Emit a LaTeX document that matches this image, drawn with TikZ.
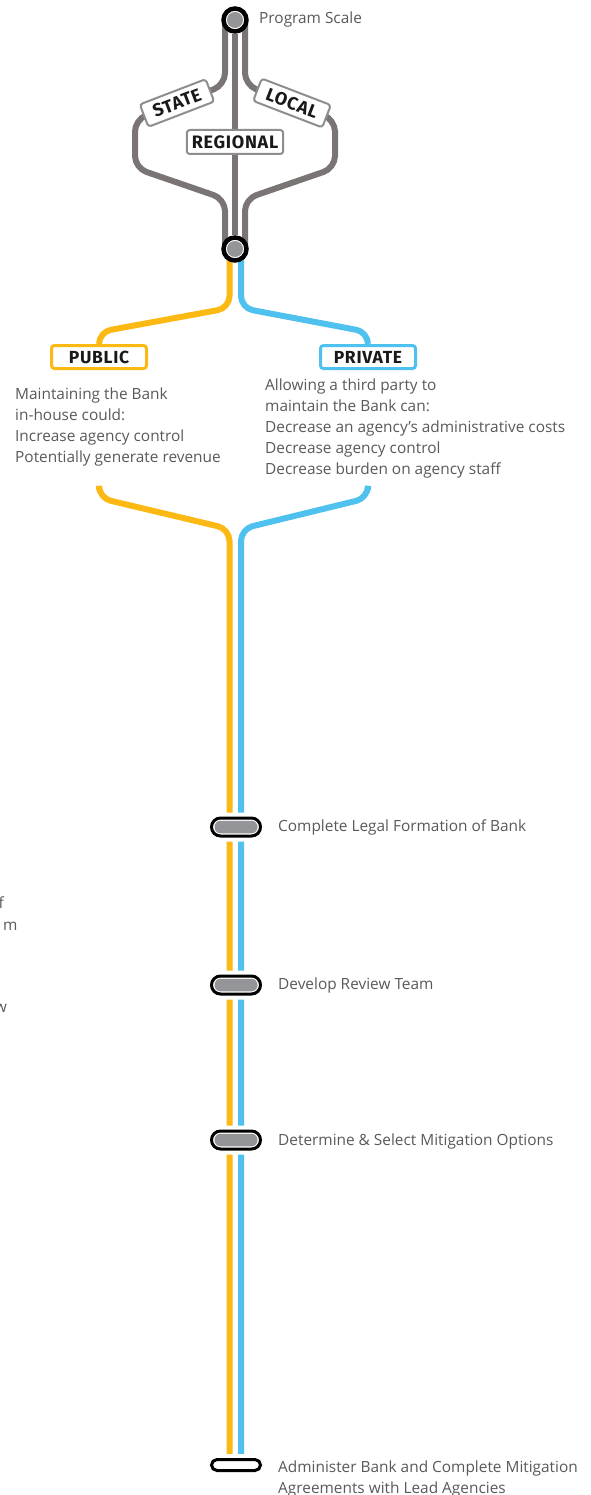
\documentclass[tikz,border=0pt]{standalone}
\usepackage{fontspec}
\setmainfont{Open Sans}
\newfontfamily\tagfont{Fira Sans}[LetterSpace=4]
\usepackage{xcolor}
\usepackage{tikz}
\usetikzlibrary{backgrounds}
\definecolor{pubyellow}{HTML}{FDB913}
\definecolor{privblue}{HTML}{4FC1EE}
\definecolor{railgray}{HTML}{7A7474}
\definecolor{tagborder}{HTML}{8E8E8E}
\definecolor{stopgray}{HTML}{939598}
\definecolor{textgray}{HTML}{58595B}
\tikzstyle{mytext} = [text=textgray, font=\fontsize{15.4}{21}\selectfont,
inner sep=0pt, align=left]
\tikzstyle{scaletag} = [draw=tagborder, fill=white, line width=2pt,
rounded corners=3pt, font=\tagfont\bfseries\fontsize{18}{18}\selectfont,
inner xsep=10pt, minimum height=24pt, text=black!90]
\tikzstyle{optiontag} = [fill=white, line width=3pt, rounded corners=3pt,
font=\tagfont\bfseries\fontsize{17.5}{17.5}\selectfont, minimum width=95pt,
minimum height=23pt, text=black!90]
\tikzstyle{hub} = [circle, draw=black, line width=4.5pt, fill=white,
minimum size=23pt, inner sep=0pt,
path picture={\fill[stopgray] (path picture bounding box.center) circle (8pt);}]
\tikzstyle{mystop} = [draw=black, line width=3pt, fill=white, rounded corners=9pt,
minimum width=49pt, minimum height=18pt, inner sep=0pt,
preaction={draw=white, line width=11pt}]
\tikzstyle{stopfill} = [fill=stopgray, rounded corners=6pt, minimum width=43pt,
minimum height=12.5pt, inner sep=0pt]
\tikzstyle{rail} = [line width=6pt, rounded corners=12pt]

\begin{document}
\begin{tikzpicture}[x=1pt,y=-1pt]
    \useasboundingbox (0,0) rectangle (590,1495);
    % program scale
    \node[hub] (scale) at (235,20) {};
    \node[mytext, anchor=west] (scaletext) at (259,20) {Program Scale};
    \node[hub] (split) at (235,249) {};
    \node[scaletag, rotate=21] (state) at (177,103) {STATE};
    \node[scaletag, rotate=-21] (local) at (292,103) {LOCAL};
    \node[scaletag, inner xsep=5pt] (regional) at (235,142) {REGIONAL};

    % ownership
    \node[optiontag, draw=pubyellow] (public) at (99,357) {PUBLIC};
    \node[optiontag, draw=privblue] (private) at (368,357) {PRIVATE};
    \node[mytext, anchor=west] (pubtext) at (15,426.5) {Maintaining the Bank\\
        in-house could:\\Increase agency control\\Potentially generate revenue};
    \node[mytext, anchor=west] (privtext) at (265,428) {Allowing a third party to\\
        maintain the Bank can:\\Decrease an agency's administrative costs\\
        Decrease agency control\\Decrease burden on agency staff};
    \coordinate (pubend) at (99,490);
    \coordinate (privend) at (368,490);

    % steps
    \node[mystop] (stop1) at (236,827) {};
    \node[stopfill] (stop1in) at (stop1) {};
    \node[mystop] (stop2) at (236,985) {};
    \node[stopfill] (stop2in) at (stop2) {};
    \node[mystop] (stop3) at (236,1140) {};
    \node[stopfill] (stop3in) at (stop3) {};
    \node[mystop, minimum height=11pt, rounded corners=5.5pt] (stop4) at (236,1465) {};
    \node[mytext, anchor=west] (step1) at (278,827) {Complete Legal Formation of Bank};
    \node[mytext, anchor=west] (step2) at (278,985) {Develop Review Team};
    \node[mytext, anchor=west] (step3) at (278,1141) {Determine \& Select Mitigation Options};
    \node[mytext, anchor=west] (step4) at (278,1479) {Administer Bank and Complete Mitigation\\
        Agreements with Lead Agencies};

    % cut-off text at the left edge
    \node[mytext, anchor=east] (frag1) at (4,903) {f};
    \node[mytext, anchor=west] (frag2) at (3,926) {m};
    \node[mytext, anchor=east] (frag3) at (7,1008) {w};

    \begin{scope}[on background layer]
        \draw[rail, railgray] ([xshift=-10pt]scale.center) -- ++(0,65) -- ++(-90,34.5)
            -- ++(0,48.5) -- ++(90,31) -- ([xshift=-10pt]split.center);
        \draw[rail, railgray] (scale) -- (split);
        \draw[rail, railgray] ([xshift=10pt]scale.center) -- ++(0,65) -- ++(90,34.5)
            -- ++(0,48.5) -- ++(-90,31) -- ([xshift=10pt]split.center);
        \draw[rail, pubyellow] ([xshift=-5.5pt]split.center) -- ++(0,59)
            -- ([yshift=12pt]public.north) -- (public.north);
        \draw[rail, privblue] ([xshift=6pt]split.center) -- ++(0,59)
            -- ([yshift=12pt]private.north) -- (private.north);
        \draw[rail, pubyellow] (pubend) -- ++(0,8) -- ([xshift=-6.5pt]stop1.center |- 0,529)
            -- ([xshift=-6.5pt]stop4.center);
        \draw[rail, privblue] (privend) -- ++(0,8) -- ([xshift=5pt]stop1.center |- 0,529)
            -- ([xshift=5pt]stop4.center);
    \end{scope}
\end{tikzpicture}
\end{document}
